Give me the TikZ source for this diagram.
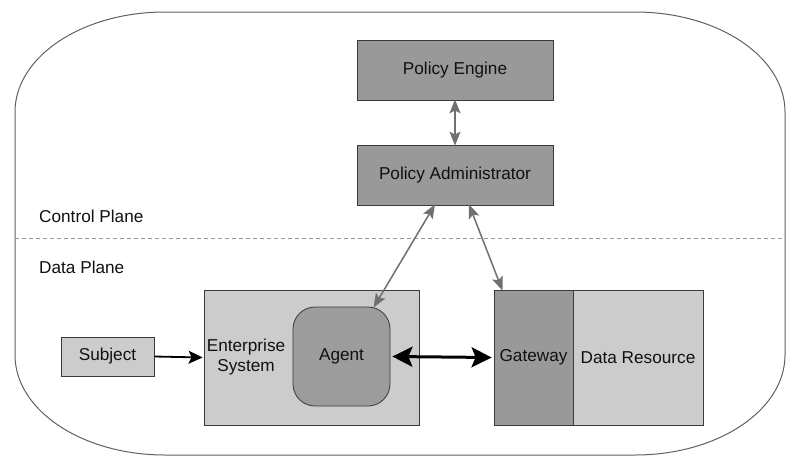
\documentclass[tikz,border=0pt]{standalone}
\usepackage{fontspec}
\setmainfont{Liberation Sans}
\usetikzlibrary{arrows.meta}
\definecolor{darkbox}{HTML}{999999}
\definecolor{lightbox}{HTML}{CCCCCC}
\definecolor{agentfill}{HTML}{9C9C9C}
\definecolor{txt}{HTML}{111111}
\definecolor{edge}{HTML}{3A3A3A}
\definecolor{garrow}{HTML}{707070}
\begin{document}
\begin{tikzpicture}[x=1pt,y=-1pt,
  every node/.style={font=\fontsize{17.2}{20}\selectfont, text=txt},
  boxdark/.style={draw=edge, line width=0.8pt, fill=darkbox, rectangle, inner sep=0pt},
  boxlight/.style={draw=edge, line width=0.8pt, fill=lightbox, rectangle, inner sep=0pt},
  gtip/.style={Stealth[length=14pt,width=11pt,inset=3pt]},
  grayarrow/.style={draw=garrow, line width=1.5pt, {Stealth[length=14pt,width=11pt,inset=3pt]}-{Stealth[length=14pt,width=11pt,inset=3pt]}},
  blackarrow/.style={draw=black, line width=1.8pt, -{Stealth[length=14pt,width=13pt,inset=3pt]}},
  thickarrow/.style={draw=black, line width=3pt, {Stealth[length=20pt,width=20pt,inset=4pt]}-{Stealth[length=20pt,width=20pt,inset=4pt]}},
  planelabel/.style={anchor=west, inner sep=0pt}
]
\useasboundingbox (0,0) rectangle (797,466);
\fill[white] (0,0) rectangle (797,466);
% outer container
\draw[draw=edge!80, line width=1pt]
  (15,112) arc[start angle=180,end angle=270,x radius=150,y radius=100]
  -- (635,12) arc[start angle=270,end angle=360,x radius=150,y radius=100]
  -- (785,355) arc[start angle=0,end angle=90,x radius=150,y radius=100]
  -- (165,455) arc[start angle=90,end angle=180,x radius=150,y radius=100]
  -- cycle;
% plane separator
\draw[draw=gray!80, line width=1pt, dash pattern=on 4pt off 3pt] (15,238) -- (785,238);
\node[planelabel] (cp) at (39,216) {Control Plane};
\node[planelabel] (dp) at (39,267) {Data Plane};
% control plane boxes
\node[boxdark, minimum width=196pt, minimum height=60pt] (pe) at (455,70) {Policy Engine};
\node[boxdark, minimum width=196pt, minimum height=60pt] (pa) at (455,175) {Policy Administrator};
% data plane boxes
\node[boxlight, minimum width=93pt, minimum height=39pt] (subj) at (107.5,356.5) {Subject};
\node[boxlight, minimum width=215pt, minimum height=135pt] (es) at (311.5,357.5) {};
\node[align=center, inner sep=0pt] (estext) at (246,357) {Enterprise\\System};
\node[draw=edge, line width=0.8pt, fill=agentfill, rectangle, rounded corners=22pt,
      minimum width=97pt, minimum height=99pt, inner sep=0pt] (agent) at (341.5,356.5) {Agent};
\node[boxdark, minimum width=79pt, minimum height=135pt] (gw) at (533.5,357.5) {Gateway};
\node[boxlight, minimum width=130pt, minimum height=135pt] (dr) at (638,357.5) {Data Resource};
% connectors
\draw[grayarrow] ([yshift=1pt]pe.south) -- ([yshift=-1pt]pa.north);
\draw[grayarrow] ([xshift=-20pt,yshift=1pt]pa.south) -- ([xshift=32pt,yshift=-1pt]agent.north);
\draw[grayarrow] ([xshift=14pt,yshift=1pt]pa.south) -- ([xshift=-31pt,yshift=-1pt]gw.north);
\draw[blackarrow] (subj.east) -- ([xshift=-1pt]es.west);
\draw[thickarrow] ([xshift=2pt]agent.east) -- ([xshift=-2pt]gw.west);
\end{tikzpicture}
\end{document}
